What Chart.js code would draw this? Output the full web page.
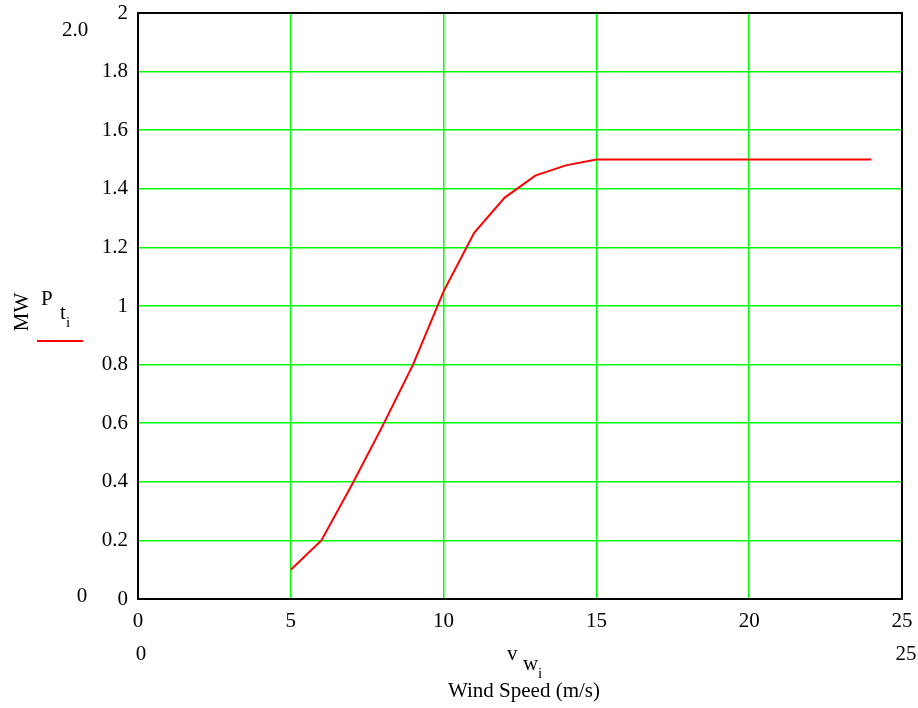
<!DOCTYPE html>
<html>
<head>
<meta charset="utf-8">
<title>Wind turbine power curve</title>
<script src="https://cdn.jsdelivr.net/npm/chart.js@4.4.1/dist/chart.umd.min.js"></script>
<style>
    html, body { margin: 0; padding: 0; background: #fff; }
    #wrap { width: 918px; height: 708px; position: relative; }
</style>
</head>
<body>
<div id="wrap"><canvas id="powerChart"></canvas></div>
<script>
// Wind speed (m/s) and turbine power (MW)
const windSpeed = [5, 6, 7, 8, 9, 10, 11, 12, 13, 14, 15, 16, 17, 18, 19, 20, 21, 22, 23, 24];
const powerMW = [0.1, 0.2, 0.39, 0.59, 0.8, 1.05, 1.25, 1.37, 1.445, 1.48, 1.5, 1.5, 1.5, 1.5, 1.5, 1.5, 1.5, 1.5, 1.5, 1.5];

const xTicks = [0, 5, 10, 15, 20, 25];
const yTicks = [0, 0.2, 0.4, 0.6, 0.8, 1, 1.2, 1.4, 1.6, 1.8, 2];

const serif = '"Liberation Serif", "Times New Roman", serif';

// frame, range labels and axis captions, drawn like the original plot
const decorations = {
    id: 'decorations',
    afterDraw(chart) {
        const ctx = chart.ctx;
        const a = chart.chartArea;
        ctx.save();

        ctx.strokeStyle = '#000';
        ctx.lineWidth = 2;
        ctx.strokeRect(a.left, a.top, a.right - a.left, a.bottom - a.top);

        ctx.fillStyle = '#000';
        ctx.font = '21px ' + serif;
        ctx.textBaseline = 'middle';

        // y range
        ctx.textAlign = 'center';
        ctx.fillText('2.0', 75, 30);
        ctx.fillText('0', 82, 596);
        // x range
        ctx.fillText('0', 141, 654);
        ctx.fillText('25', 906, 654);

        // y caption
        ctx.save();
        ctx.translate(22, 312);
        ctx.rotate(-Math.PI / 2);
        ctx.fillText('MW', 0, 0);
        ctx.restore();

        ctx.textAlign = 'left';
        ctx.fillText('P', 41, 299);
        ctx.fillText('t', 60, 313);
        ctx.font = '15px ' + serif;
        ctx.fillText('i', 66, 323);

        ctx.strokeStyle = '#ff0000';
        ctx.lineWidth = 2;
        ctx.beginPath();
        ctx.moveTo(37, 341);
        ctx.lineTo(83, 341);
        ctx.stroke();

        // x caption
        ctx.font = '21px ' + serif;
        ctx.fillText('v', 507, 654);
        ctx.fillText('w', 523, 664);
        ctx.font = '15px ' + serif;
        ctx.fillText('i', 538, 674);
        ctx.font = '21px ' + serif;
        ctx.textAlign = 'center';
        ctx.fillText('Wind Speed (m/s)', 524, 691);

        ctx.restore();
    }
};

new Chart(document.getElementById('powerChart'), {
    type: 'line',
    data: {
        labels: windSpeed,
        datasets: [{
            label: 'P',
            data: windSpeed.map((v, i) => ({ x: v, y: powerMW[i] })),
            borderColor: '#ff0000',
            borderWidth: 2,
            pointRadius: 0,
            tension: 0,
            fill: false
        }]
    },
    options: {
        responsive: true,
        maintainAspectRatio: false,
        animation: false,
        layout: { padding: { top: 13, right: 16, left: 0, bottom: 0 } },
        plugins: {
            legend: { display: false },
            tooltip: { enabled: false }
        },
        scales: {
            x: {
                type: 'linear',
                min: 0,
                max: 25,
                afterBuildTicks: axis => { axis.ticks = xTicks.map(v => ({ value: v })); },
                afterFit: axis => {
                    axis.height = 109;
                    axis.paddingLeft = 0;
                    axis.paddingRight = 0;
                },
                grid: { color: '#00ff00', lineWidth: 1.5, drawTicks: false },
                border: { color: '#000', width: 2 },
                ticks: {
                    color: '#000',
                    padding: 10,
                    maxRotation: 0,
                    font: { family: serif, size: 21 }
                }
            },
            y: {
                min: 0,
                max: 2,
                afterBuildTicks: axis => { axis.ticks = yTicks.map(v => ({ value: v })); },
                afterFit: axis => {
                    axis.width = 138;
                    axis.paddingTop = 0;
                    axis.paddingBottom = 0;
                },
                grid: { color: '#00ff00', lineWidth: 1.5, drawTicks: false },
                border: { color: '#000', width: 2 },
                ticks: {
                    color: '#000',
                    padding: 10,
                    font: { family: serif, size: 21 },
                    callback: v => String(Math.round(v * 10) / 10)
                }
            }
        }
    },
    plugins: [decorations]
});
</script>
</body>
</html>
